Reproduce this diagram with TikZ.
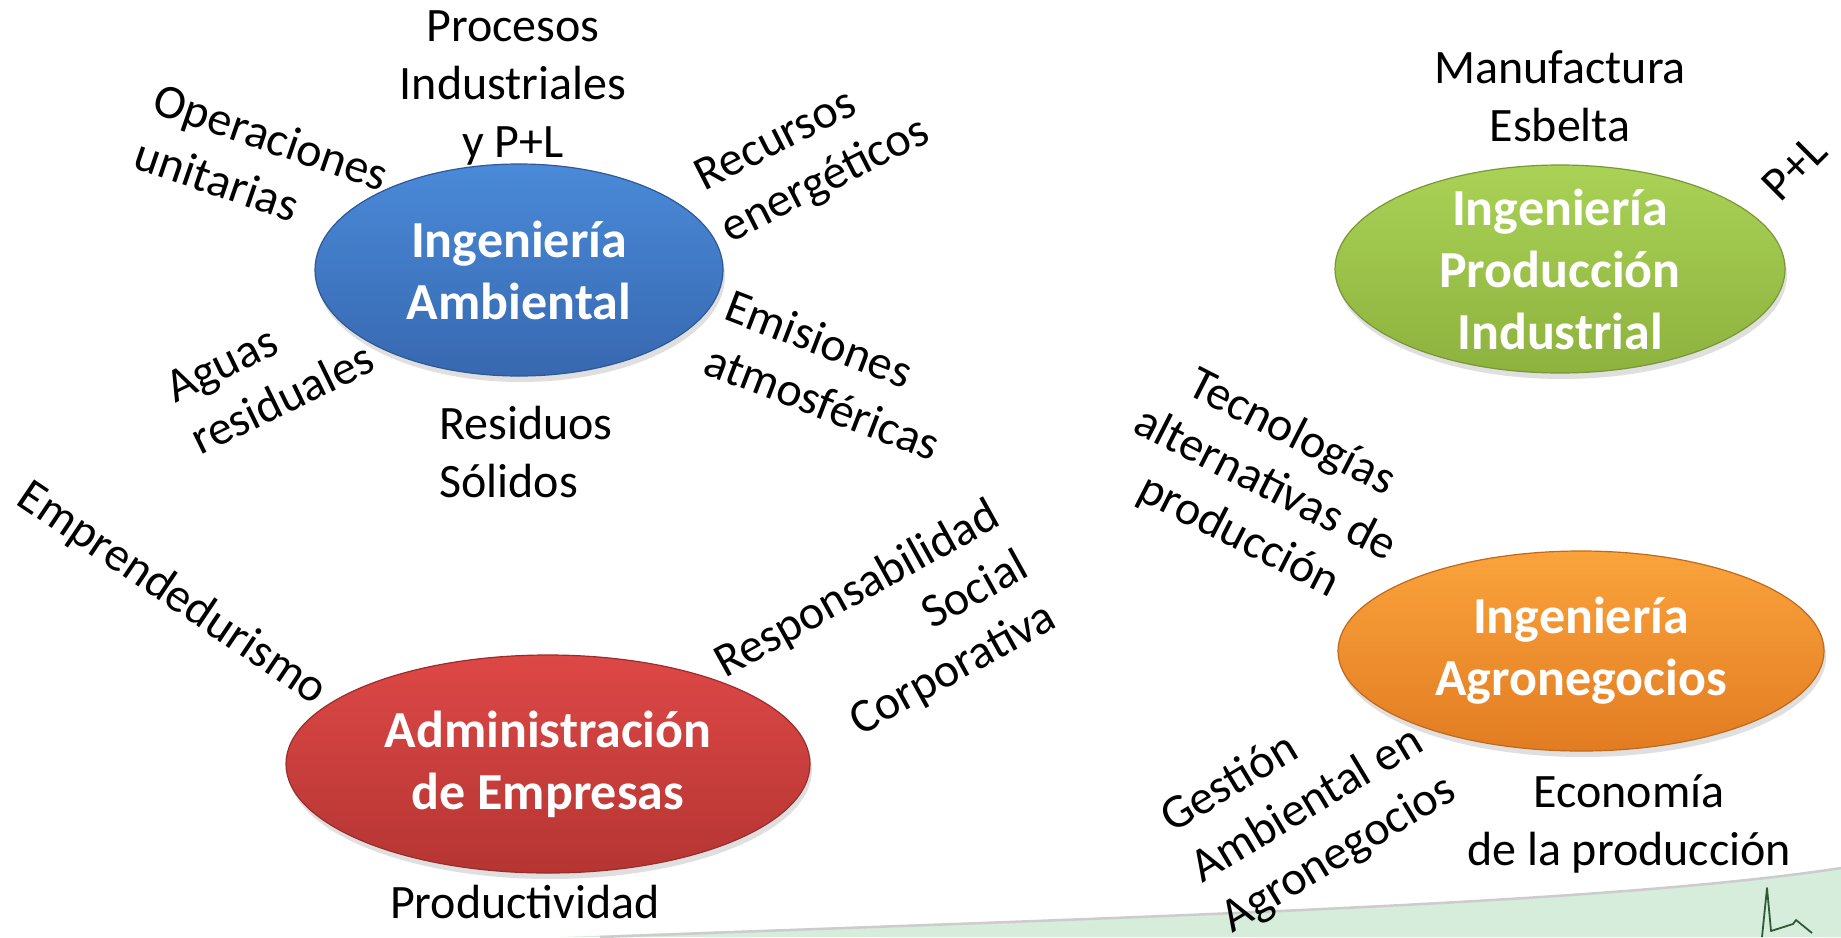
\documentclass[tikz,border=0pt]{standalone}
\usepackage{fontspec}
\setmainfont{Carlito}
\usetikzlibrary{shapes.geometric,shadows}
\definecolor{blueTop}{HTML}{4A8AD8}
\definecolor{blueBot}{HTML}{3768B0}
\definecolor{greenTop}{HTML}{AAD256}
\definecolor{greenBot}{HTML}{8DB23E}
\definecolor{redTop}{HTML}{DD4846}
\definecolor{redBot}{HTML}{B53533}
\definecolor{orangeTop}{HTML}{FAA33B}
\definecolor{orangeBot}{HTML}{E27C22}
\definecolor{bandgreen}{HTML}{D6EDDB}
\definecolor{logogreen}{HTML}{2E5A36}
\begin{document}
\begin{tikzpicture}[x=1pt,y=-1pt,
  lbl/.style={font=\fontsize{48}{58}\selectfont, inner sep=0pt, text=black},
  blob/.style 2 args={ellipse, inner sep=0pt, top color=#1, bottom color=#2,
    draw=#2!85!black, line width=1.2pt,
    drop shadow={opacity=0.25, shadow xshift=2pt, shadow yshift=-6pt}},
  etxt/.style={font=\bfseries\fontsize{52}{62}\selectfont, text=white, align=center, inner sep=0pt}
]
\useasboundingbox (0,0) rectangle (1841,937);
\fill[white] (0,0) rectangle (1841,937);

% bottom band
\fill[bandgreen] (560,937) .. controls (1100,918) and (1600,905) .. (1841,868) -- (1841,937) -- cycle;
\draw[gray!40, line width=2.5pt] (600,937) .. controls (1100,918) and (1600,905) .. (1841,868);
\draw[logogreen, line width=1.8pt, line join=round] (1762,937) -- (1767,888) -- (1771,931) -- (1793,924) -- (1796,920) -- (1812,933);

% ellipses
\node[blob={blueTop}{blueBot}, minimum width=408pt, minimum height=212pt] (amb) at (519,270) {};
\node[etxt] at (amb.center) {Ingeniería\\Ambiental};
\node[blob={greenTop}{greenBot}, minimum width=450pt, minimum height=208pt] (ipi) at (1560,269) {};
\node[etxt] at (ipi.center) {Ingeniería\\Producción\\Industrial};
\node[blob={redTop}{redBot}, minimum width=524pt, minimum height=218pt] (adm) at (548,764) {};
\node[etxt] at (adm.center) {Administración\\de Empresas};
\node[blob={orangeTop}{orangeBot}, minimum width=486pt, minimum height=200pt] (agr) at (1581,651) {};
\node[etxt] at (agr.center) {Ingeniería\\Agronegocios};

% labels
\node[lbl, align=center] (proc) at (513,88) {Procesos\\Industriales\\y P+L};
\node[lbl, align=left, rotate=-19] (oper) at (262,164) {Operaciones\\unitarias};
\node[lbl, align=left, rotate=27] (recu) at (813,156) {Recursos\\energéticos};
\node[lbl, align=left, rotate=-21] (emis) at (833,375) {Emisiones\\atmosféricas};
\node[lbl, align=left, rotate=26] (agua) at (270,373) {Aguas\\residuales};
\node[lbl, align=left] (resi) at (526,452) {Residuos\\Sólidos};
\node[lbl, rotate=-34] (empr) at (172,594) {Emprendedurismo};
\node[lbl, align=right, rotate=29] (resp) at (886,641) {Responsabilidad\\Social\\Corporativa};
\node[lbl] (prod) at (525,902) {Productividad};
\node[lbl, align=center] (manu) at (1560,96) {Manufactura\\Esbelta};
\node[lbl, rotate=45] (pl) at (1794,168) {P+L};
\node[lbl, align=center, rotate=-27] (tecn) at (1265,485) {Tecnologías\\alternativas de\\producción};
\node[lbl, align=left, rotate=31] (gest) at (1309,805) {Gestión\\Ambiental en\\Agronegocios};
\node[lbl, align=center] (econ) at (1629,824) {Economía\\de la producción};
\end{tikzpicture}
\end{document}
